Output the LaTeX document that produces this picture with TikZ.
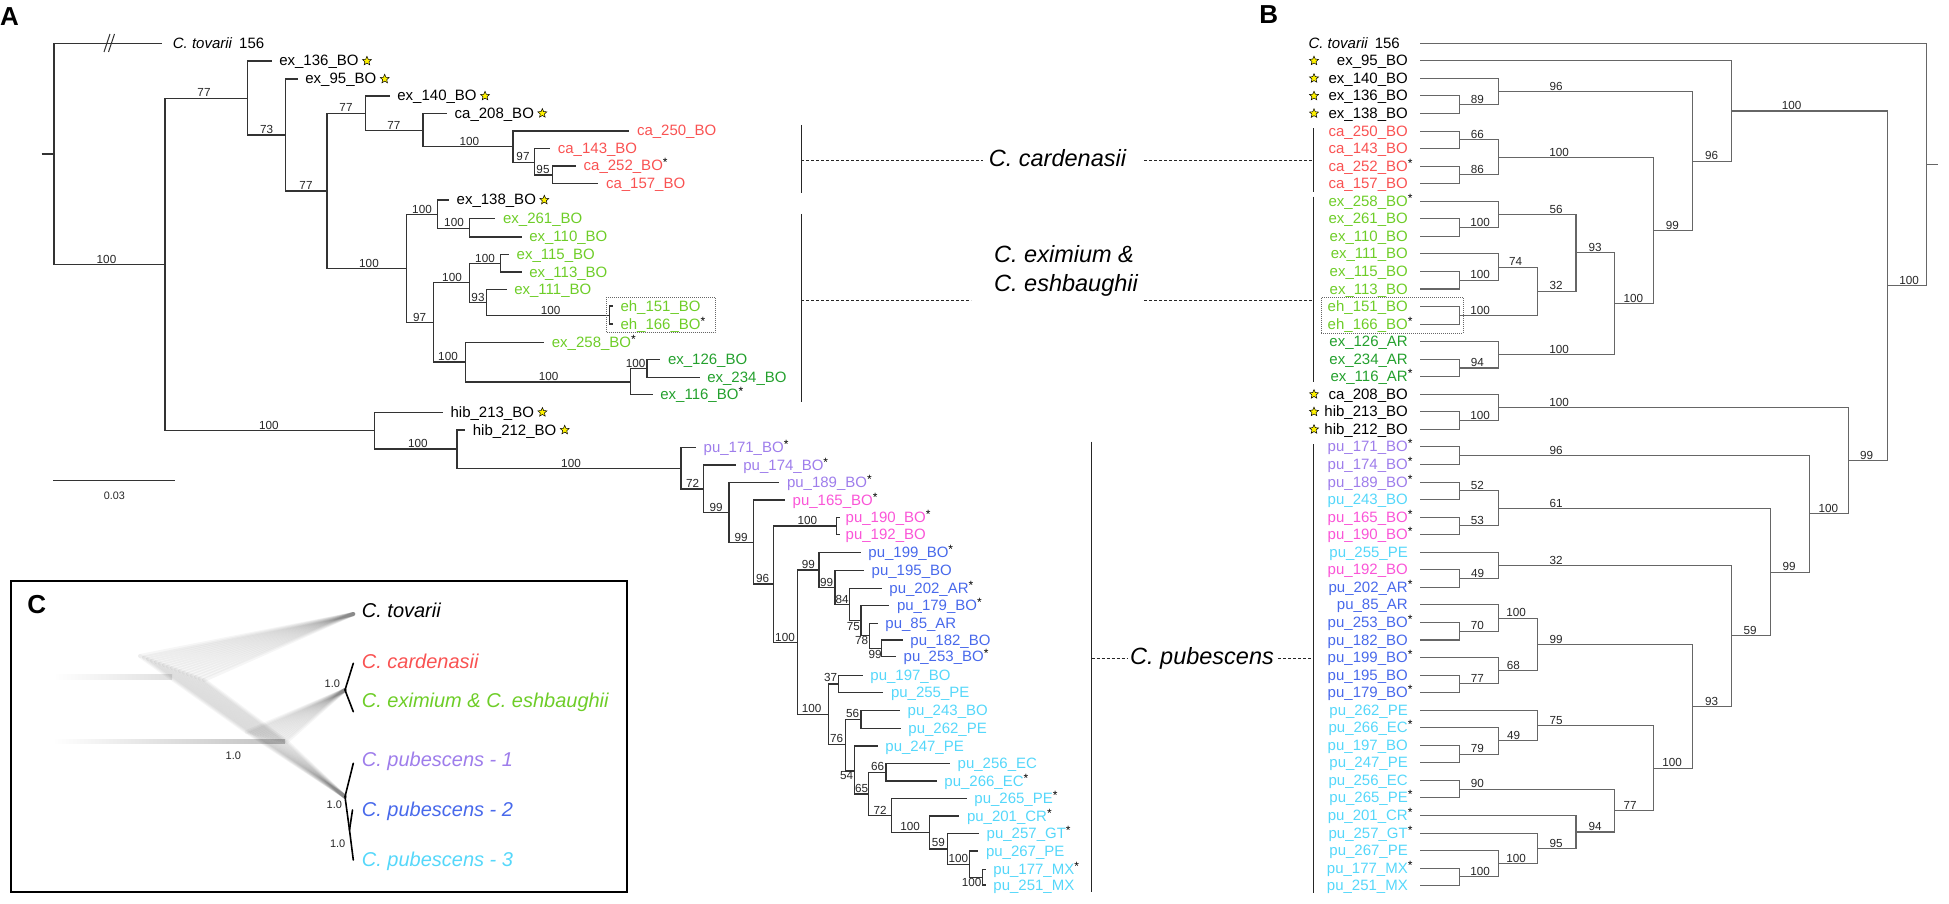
\documentclass[tikz,border=0pt]{standalone}
\usepackage{fontspec}
\setmainfont{Liberation Sans}
\usetikzlibrary{positioning,shapes.geometric}
\definecolor{cared}{RGB}{249,82,82}
\definecolor{exlight}{RGB}{110,205,40}
\definecolor{exdark}{RGB}{35,160,45}
\definecolor{pupur}{RGB}{158,125,235}
\definecolor{pupink}{RGB}{250,85,215}
\definecolor{publu}{RGB}{72,105,235}
\definecolor{pucya}{RGB}{85,215,250}
\newcommand{\astr}{\textcolor{black}{\raisebox{4pt}{\fontsize{12}{12}\selectfont *}}}
\begin{document}
\begin{tikzpicture}[x=1pt, y=-1pt,
  br/.style={draw=black!80, line width=1.25pt},
  brb/.style={draw=black!60, line width=1.05pt},
  tipA/.style={font=\fontsize{15}{17}\selectfont, inner sep=0pt, text height=11pt, text depth=1pt},
  boot/.style={font=\fontsize{11.7}{13}\selectfont, inner sep=0pt, text height=8.4pt, text depth=0pt, text=black!85},
  ystar/.style={star, star points=5, star point ratio=2.2, fill=yellow, draw=black, line width=0.5pt, minimum size=9.5pt, inner sep=0pt},
  grp/.style={draw=black!85, dash pattern=on 3pt off 2pt, line width=0.9pt},
  bar/.style={draw=black!85, line width=1.4pt},
  lab/.style={font=\fontsize{23.5}{28.3}\selectfont\itshape, inner sep=0pt, text height=12.2pt, text depth=0pt, anchor=west},
  panel/.style={font=\fontsize{26}{26}\selectfont\bfseries, inner sep=0pt, text height=18.6pt, text depth=0pt},
  ehbox/.style={draw=black!60, dash pattern=on 1pt off 1pt, line width=0.7pt},
  cloud/.style={draw=black, line width=4pt, opacity=0.035, line cap=round},
  ctip/.style={draw=black, line width=1.6pt, line cap=round},
  ctx/.style={font=\fontsize{20}{24}\selectfont\itshape, inner sep=0pt, text height=14.3pt, text depth=0pt, anchor=west},
  cbs/.style={font=\fontsize{11}{13}\selectfont, inner sep=0pt, text=black!85}]
\useasboundingbox (0,0) rectangle (1949,904);

% panel letters
\node[panel] (pa) at (9.5,16) {A};
\node[panel] (pb) at (1268.7,14.7) {B};
\node[panel] (pc) at (36.7,604) {C};

% ---------------- panel A ----------------
\coordinate (aroot) at (41.5,154);
\coordinate (aid0) at (54,154);
\coordinate (aid1) at (165,264.3);
\coordinate (aid2) at (247.5,98.3);
\coordinate (aid3) at (285.2,135);
\coordinate (aid4) at (327.1,191);
\coordinate (aid5) at (365.7,113.3);
\coordinate (aid6) at (422.9,130.7);
\coordinate (aid7) at (512.9,146.7);
\coordinate (aid8) at (534.8,162.3);
\coordinate (aid9) at (552.7,175);
\coordinate (aid10) at (406.3,268.3);
\coordinate (aid11) at (437.4,214.5);
\coordinate (aid12) at (469.7,228.3);
\coordinate (aid13) at (433.3,322.7);
\coordinate (aid14) at (469.6,282.7);
\coordinate (aid15) at (500.8,263.3);
\coordinate (aid16) at (486.3,302.7);
\coordinate (aid17) at (609.5,315.5);
\coordinate (aid18) at (465.2,362);
\coordinate (aid19) at (630.4,382);
\coordinate (aid20) at (646.9,368.5);
\coordinate (aid21) at (374.6,430.3);
\coordinate (aid22) at (457.1,449);
\coordinate (aid23) at (681,468.3);
\coordinate (aid24) at (703.3,489);
\coordinate (aid25) at (729,512.7);
\coordinate (aid26) at (753.3,542.3);
\coordinate (aid27) at (773.3,584);
\coordinate (aid28) at (836.7,526);
\coordinate (aid29) at (797.3,642.3);
\coordinate (aid30) at (819,570);
\coordinate (aid31) at (835,587.3);
\coordinate (aid32) at (849.3,604.5);
\coordinate (aid33) at (861,620.7);
\coordinate (aid34) at (869.3,635.7);
\coordinate (aid35) at (881.7,648.3);
\coordinate (aid36) at (828.3,714.3);
\coordinate (aid37) at (838.3,684);
\coordinate (aid38) at (845.7,744.3);
\coordinate (aid39) at (861,719.5);
\coordinate (aid40) at (854.3,771);
\coordinate (aid41) at (868.7,794);
\coordinate (aid42) at (886,772.7);
\coordinate (aid43) at (891.7,815.7);
\coordinate (aid44) at (929.3,832.7);
\coordinate (aid45) at (947.7,849);
\coordinate (aid46) at (969.3,864.5);
\coordinate (aid47) at (982.7,877.2);

\coordinate (atp0) at (161.7,43.3);
\coordinate (atp1) at (271.6,61);
\coordinate (atp2) at (297.7,79);
\coordinate (atp3) at (389.7,96);
\coordinate (atp4) at (447,113.3);
\coordinate (atp5) at (629.3,131);
\coordinate (atp6) at (550.2,148.7);
\coordinate (atp7) at (576,166);
\coordinate (atp8) at (598.3,183.3);
\coordinate (atp9) at (449,200);
\coordinate (atp10) at (495.4,218.7);
\coordinate (atp11) at (521.6,237);
\coordinate (atp12) at (509,254.3);
\coordinate (atp13) at (521.6,272);
\coordinate (atp14) at (506.6,289.3);
\coordinate (atp15) at (612.8,306);
\coordinate (atp16) at (612.8,324);
\coordinate (atp17) at (544.2,342.3);
\coordinate (atp18) at (660.3,359.7);
\coordinate (atp19) at (699.6,377.3);
\coordinate (atp20) at (652.7,394.7);
\coordinate (atp21) at (442.9,412.3);
\coordinate (atp22) at (465.2,430);
\coordinate (atp23) at (696,447.7);
\coordinate (atp24) at (735.7,465);
\coordinate (atp25) at (779.3,482.3);
\coordinate (atp26) at (785,500);
\coordinate (atp27) at (839.5,517.5);
\coordinate (atp28) at (839.5,534.5);
\coordinate (atp29) at (860.7,552.7);
\coordinate (atp30) at (864,570.7);
\coordinate (atp31) at (881.7,588.3);
\coordinate (atp32) at (889.3,605.7);
\coordinate (atp33) at (877.7,623.3);
\coordinate (atp34) at (902.7,640);
\coordinate (atp35) at (896,656.7);
\coordinate (atp36) at (862.7,675.3);
\coordinate (atp37) at (883.3,692.7);
\coordinate (atp38) at (900,710.7);
\coordinate (atp39) at (900.7,728.3);
\coordinate (atp40) at (877.7,746);
\coordinate (atp41) at (950,763.3);
\coordinate (atp42) at (936.7,781);
\coordinate (atp43) at (966.7,798.3);
\coordinate (atp44) at (959.3,816);
\coordinate (atp45) at (979,833.3);
\coordinate (atp46) at (978.3,851);
\coordinate (atp47) at (985.7,869.3);
\coordinate (atp48) at (985.7,885);

\draw[br] (aroot) -- (aid0);
\draw[br] (aid0) |- (atp0);
\draw[br] (aid0) |- (aid1);
\draw[br] (aid1) |- (aid2);
\draw[br] (aid1) |- (aid21);
\draw[br] (aid2) |- (atp1);
\draw[br] (aid2) |- (aid3);
\draw[br] (aid3) |- (atp2);
\draw[br] (aid3) |- (aid4);
\draw[br] (aid4) |- (aid5);
\draw[br] (aid4) |- (aid10);
\draw[br] (aid5) |- (atp3);
\draw[br] (aid5) |- (aid6);
\draw[br] (aid6) |- (atp4);
\draw[br] (aid6) |- (aid7);
\draw[br] (aid7) |- (atp5);
\draw[br] (aid7) |- (aid8);
\draw[br] (aid8) |- (atp6);
\draw[br] (aid8) |- (aid9);
\draw[br] (aid9) |- (atp7);
\draw[br] (aid9) |- (atp8);
\draw[br] (aid10) |- (aid11);
\draw[br] (aid10) |- (aid13);
\draw[br] (aid11) |- (atp9);
\draw[br] (aid11) |- (aid12);
\draw[br] (aid12) |- (atp10);
\draw[br] (aid12) |- (atp11);
\draw[br] (aid13) |- (aid14);
\draw[br] (aid13) |- (aid18);
\draw[br] (aid14) |- (aid15);
\draw[br] (aid14) |- (aid16);
\draw[br] (aid15) |- (atp12);
\draw[br] (aid15) |- (atp13);
\draw[br] (aid16) |- (atp14);
\draw[br] (aid16) |- (aid17);
\draw[br] (aid17) |- (atp15);
\draw[br] (aid17) |- (atp16);
\draw[br] (aid18) |- (atp17);
\draw[br] (aid18) |- (aid19);
\draw[br] (aid19) |- (aid20);
\draw[br] (aid19) |- (atp20);
\draw[br] (aid20) |- (atp18);
\draw[br] (aid20) |- (atp19);
\draw[br] (aid21) |- (atp21);
\draw[br] (aid21) |- (aid22);
\draw[br] (aid22) |- (atp22);
\draw[br] (aid22) |- (aid23);
\draw[br] (aid23) |- (atp23);
\draw[br] (aid23) |- (aid24);
\draw[br] (aid24) |- (atp24);
\draw[br] (aid24) |- (aid25);
\draw[br] (aid25) |- (atp25);
\draw[br] (aid25) |- (aid26);
\draw[br] (aid26) |- (atp26);
\draw[br] (aid26) |- (aid27);
\draw[br] (aid27) |- (aid28);
\draw[br] (aid27) |- (aid29);
\draw[br] (aid28) |- (atp27);
\draw[br] (aid28) |- (atp28);
\draw[br] (aid29) |- (aid30);
\draw[br] (aid29) |- (aid36);
\draw[br] (aid30) |- (atp29);
\draw[br] (aid30) |- (aid31);
\draw[br] (aid31) |- (atp30);
\draw[br] (aid31) |- (aid32);
\draw[br] (aid32) |- (atp31);
\draw[br] (aid32) |- (aid33);
\draw[br] (aid33) |- (atp32);
\draw[br] (aid33) |- (aid34);
\draw[br] (aid34) |- (atp33);
\draw[br] (aid34) |- (aid35);
\draw[br] (aid35) |- (atp34);
\draw[br] (aid35) |- (atp35);
\draw[br] (aid36) |- (aid37);
\draw[br] (aid36) |- (aid38);
\draw[br] (aid37) |- (atp36);
\draw[br] (aid37) |- (atp37);
\draw[br] (aid38) |- (aid39);
\draw[br] (aid38) |- (aid40);
\draw[br] (aid39) |- (atp38);
\draw[br] (aid39) |- (atp39);
\draw[br] (aid40) |- (atp40);
\draw[br] (aid40) |- (aid41);
\draw[br] (aid41) |- (aid42);
\draw[br] (aid41) |- (aid43);
\draw[br] (aid42) |- (atp41);
\draw[br] (aid42) |- (atp42);
\draw[br] (aid43) |- (atp43);
\draw[br] (aid43) |- (aid44);
\draw[br] (aid44) |- (atp44);
\draw[br] (aid44) |- (aid45);
\draw[br] (aid45) |- (atp45);
\draw[br] (aid45) |- (aid46);
\draw[br] (aid46) |- (atp46);
\draw[br] (aid46) |- (aid47);
\draw[br] (aid47) |- (atp47);
\draw[br] (aid47) |- (atp48);

% break on the outgroup branch
\draw[br, line width=1pt] (104,52) -- (110,34);
\draw[br, line width=1pt] (108.5,52) -- (114.5,34);

% tip names A
\node[tipA, right=11pt of atp0] (atx0) {\textit{C. tovarii}\hspace{0.45em}156};
\node[tipA, right=7.5pt of atp1] (atx1) {ex\_136\_BO};
\node[ystar, right=5pt of atx1] (ast1) {};
\node[tipA, right=7.5pt of atp2] (atx2) {ex\_95\_BO};
\node[ystar, right=5pt of atx2] (ast2) {};
\node[tipA, right=7.5pt of atp3] (atx3) {ex\_140\_BO};
\node[ystar, right=5pt of atx3] (ast3) {};
\node[tipA, right=7.5pt of atp4] (atx4) {ca\_208\_BO};
\node[ystar, right=5pt of atx4] (ast4) {};
\node[tipA, text=cared, right=7.5pt of atp5] (atx5) {ca\_250\_BO};
\node[tipA, text=cared, right=7.5pt of atp6] (atx6) {ca\_143\_BO};
\node[tipA, text=cared, right=7.5pt of atp7] (atx7) {ca\_252\_BO\astr};
\node[tipA, text=cared, right=7.5pt of atp8] (atx8) {ca\_157\_BO};
\node[tipA, right=7.5pt of atp9] (atx9) {ex\_138\_BO};
\node[ystar, right=5pt of atx9] (ast9) {};
\node[tipA, text=exlight, right=7.5pt of atp10] (atx10) {ex\_261\_BO};
\node[tipA, text=exlight, right=7.5pt of atp11] (atx11) {ex\_110\_BO};
\node[tipA, text=exlight, right=7.5pt of atp12] (atx12) {ex\_115\_BO};
\node[tipA, text=exlight, right=7.5pt of atp13] (atx13) {ex\_113\_BO};
\node[tipA, text=exlight, right=7.5pt of atp14] (atx14) {ex\_111\_BO};
\node[tipA, text=exlight, right=7.5pt of atp15] (atx15) {eh\_151\_BO};
\node[tipA, text=exlight, right=7.5pt of atp16] (atx16) {eh\_166\_BO\astr};
\node[tipA, text=exlight, right=7.5pt of atp17] (atx17) {ex\_258\_BO\astr};
\node[tipA, text=exdark, right=7.5pt of atp18] (atx18) {ex\_126\_BO};
\node[tipA, text=exdark, right=7.5pt of atp19] (atx19) {ex\_234\_BO};
\node[tipA, text=exdark, right=7.5pt of atp20] (atx20) {ex\_116\_BO\astr};
\node[tipA, right=7.5pt of atp21] (atx21) {hib\_213\_BO};
\node[ystar, right=5pt of atx21] (ast21) {};
\node[tipA, right=7.5pt of atp22] (atx22) {hib\_212\_BO};
\node[ystar, right=5pt of atx22] (ast22) {};
\node[tipA, text=pupur, right=7.5pt of atp23] (atx23) {pu\_171\_BO\astr};
\node[tipA, text=pupur, right=7.5pt of atp24] (atx24) {pu\_174\_BO\astr};
\node[tipA, text=pupur, right=7.5pt of atp25] (atx25) {pu\_189\_BO\astr};
\node[tipA, text=pupink, right=7.5pt of atp26] (atx26) {pu\_165\_BO\astr};
\node[tipA, text=pupink, right=6pt of atp27] (atx27) {pu\_190\_BO\astr};
\node[tipA, text=pupink, right=6pt of atp28] (atx28) {pu\_192\_BO};
\node[tipA, text=publu, right=7.5pt of atp29] (atx29) {pu\_199\_BO\astr};
\node[tipA, text=publu, right=7.5pt of atp30] (atx30) {pu\_195\_BO};
\node[tipA, text=publu, right=7.5pt of atp31] (atx31) {pu\_202\_AR\astr};
\node[tipA, text=publu, right=7.5pt of atp32] (atx32) {pu\_179\_BO\astr};
\node[tipA, text=publu, right=7.5pt of atp33] (atx33) {pu\_85\_AR};
\node[tipA, text=publu, right=7.5pt of atp34] (atx34) {pu\_182\_BO};
\node[tipA, text=publu, right=7.5pt of atp35] (atx35) {pu\_253\_BO\astr};
\node[tipA, text=pucya, right=7.5pt of atp36] (atx36) {pu\_197\_BO};
\node[tipA, text=pucya, right=7.5pt of atp37] (atx37) {pu\_255\_PE};
\node[tipA, text=pucya, right=7.5pt of atp38] (atx38) {pu\_243\_BO};
\node[tipA, text=pucya, right=7.5pt of atp39] (atx39) {pu\_262\_PE};
\node[tipA, text=pucya, right=7.5pt of atp40] (atx40) {pu\_247\_PE};
\node[tipA, text=pucya, right=7.5pt of atp41] (atx41) {pu\_256\_EC};
\node[tipA, text=pucya, right=7.5pt of atp42] (atx42) {pu\_266\_EC\astr};
\node[tipA, text=pucya, right=7.5pt of atp43] (atx43) {pu\_265\_PE\astr};
\node[tipA, text=pucya, right=7.5pt of atp44] (atx44) {pu\_201\_CR\astr};
\node[tipA, text=pucya, right=7.5pt of atp45] (atx45) {pu\_257\_GT\astr};
\node[tipA, text=pucya, right=7.5pt of atp46] (atx46) {pu\_267\_PE};
\node[tipA, text=pucya, right=7.5pt of atp47] (atx47) {pu\_177\_MX\astr};
\node[tipA, text=pucya, right=7.5pt of atp48] (atx48) {pu\_251\_MX};

\draw[ehbox] (606,297.3) rectangle (715,332.7);

% support values A
\node[boot] (alb1) at (106.5,258.8) {100};
\node[boot] (alb2) at (204,92.8) {77};
\node[boot] (alb3) at (266.6,129.5) {73};
\node[boot] (alb4) at (306,185.5) {77};
\node[boot] (alb5) at (346,107.8) {77};
\node[boot] (alb6) at (393.9,125.2) {77};
\node[boot] (alb7) at (469.3,141.2) {100};
\node[boot] (alb8) at (523,156.8) {97};
\node[boot] (alb9) at (543,169.5) {95};
\node[boot] (alb10) at (369,262.8) {100};
\node[boot] (alb11) at (422,209) {100};
\node[boot] (alb12) at (454,222.8) {100};
\node[boot] (alb13) at (419.6,317.2) {97};
\node[boot] (alb14) at (452,277.2) {100};
\node[boot] (alb15) at (485,257.8) {100};
\node[boot] (alb16) at (478,297.2) {93};
\node[boot] (alb17) at (550.6,310) {100};
\node[boot] (alb18) at (448,356.5) {100};
\node[boot] (alb19) at (548.7,376.5) {100};
\node[boot] (alb20) at (635.7,363) {100};
\node[boot] (alb21) at (268.8,424.8) {100};
\node[boot] (alb22) at (417.9,443.5) {100};
\node[boot] (alb23) at (571,462.8) {100};
\node[boot] (alb24) at (692.7,483.5) {72};
\node[boot] (alb25) at (716,507.2) {99};
\node[boot] (alb26) at (741,536.8) {99};
\node[boot] (alb27) at (762.7,578.5) {96};
\node[boot] (alb28) at (807.3,520.5) {100};
\node[boot] (alb29) at (785,636.8) {100};
\node[boot] (alb30) at (808.3,564.5) {99};
\node[boot] (alb31) at (826.7,581.8) {99};
\node[boot] (alb32) at (842,599) {84};
\node[boot] (alb33) at (853.3,626.7) {75};
\node[boot] (alb34) at (861.7,640.7) {78};
\node[boot] (alb35) at (875,654) {99};
\node[boot] (alb36) at (811.7,708.3) {100};
\node[boot] (alb37) at (830.7,677.7) {37};
\node[boot] (alb38) at (836.7,738.3) {76};
\node[boot] (alb39) at (852.7,713.3) {56};
\node[boot] (alb40) at (846.7,775.7) {54};
\node[boot] (alb41) at (861.7,788.3) {65};
\node[boot] (alb42) at (877.7,766.7) {66};
\node[boot] (alb43) at (880,810) {72};
\node[boot] (alb44) at (910,826.7) {100};
\node[boot] (alb45) at (938.3,842.7) {59};
\node[boot] (alb46) at (958.3,858.3) {100};
\node[boot] (alb47) at (971.7,882.7) {100};

% scale bar
\coordinate (sb0) at (53.3,480.7);
\coordinate (sb1) at (175,480.7);
\draw[br] (sb0) -- (sb1);
\node[boot, font=\fontsize{10.8}{12}\selectfont] (sblb) at (114.3,495) {0.03};

% ---------------- clade labels ----------------
\coordinate (caA1) at (801.3,125);
\coordinate (caA2) at (801.3,193.3);
\coordinate (caA) at (801.3,160);
\coordinate (caL) at (982.5,160);
\coordinate (caR) at (1144,160);
\coordinate (caB) at (1313.3,160);
\coordinate (caB1) at (1313.3,128.3);
\coordinate (caB2) at (1313.3,191.7);
\draw[bar] (caA1) -- (caA2);
\draw[bar] (caB1) -- (caB2);
\draw[grp] (caA) -- (caL);
\draw[grp] (caR) -- (caB);
\node[lab] (calab) at (988.7,160) {C. cardenasii};

\coordinate (exA1) at (801.3,214);
\coordinate (exA2) at (801.3,402);
\coordinate (exA) at (801.3,300);
\coordinate (exL) at (971.3,300);
\coordinate (exR) at (1144,300);
\coordinate (exB) at (1313.3,300);
\coordinate (exB1) at (1313.3,196.7);
\coordinate (exB2) at (1313.3,381.7);
\draw[bar] (exA1) -- (exA2);
\draw[bar] (exB1) -- (exB2);
\draw[grp] (exA) -- (exL);
\draw[grp] (exR) -- (exB);
\node[font=\fontsize{23.5}{28.3}\selectfont\itshape, inner sep=0pt, align=left, anchor=base west] (exlab) at (994,291.1) {C. eximium \&\\C. eshbaughii};

\coordinate (puA1) at (1091.7,441.7);
\coordinate (puA2) at (1091.7,891.7);
\coordinate (puA) at (1091.7,658.3);
\coordinate (puL) at (1127,658.3);
\coordinate (puR) at (1278,658.3);
\coordinate (puB) at (1313.3,658.3);
\coordinate (puB1) at (1313.3,444);
\coordinate (puB2) at (1313.3,893.3);
\draw[bar] (puA1) -- (puA2);
\draw[bar] (puB1) -- (puB2);
\draw[grp] (puA) -- (puL);
\draw[grp] (puR) -- (puB);
\node[lab] (pulab) at (1130,658.3) {C. pubescens};

% ---------------- panel B ----------------
\coordinate (bid1) at (1459.3,104.7);
\coordinate (bid2) at (1498.2,91.6);
\coordinate (bid3) at (1459.3,139.8);
\coordinate (bid4) at (1459.3,174.9);
\coordinate (bid5) at (1498.2,157.4);
\coordinate (bid6) at (1459.3,227.6);
\coordinate (bid7) at (1498.2,214.4);
\coordinate (bid8) at (1459.3,280.2);
\coordinate (bid9) at (1498.2,267.1);
\coordinate (bid10) at (1459.3,315.3);
\coordinate (bid11) at (1537.1,291.2);
\coordinate (bid12) at (1576.0,252.8);
\coordinate (bid13) at (1459.3,368.0);
\coordinate (bid14) at (1498.2,354.8);
\coordinate (bid15) at (1614.9,303.8);
\coordinate (bid16) at (1653.8,230.6);
\coordinate (bid17) at (1692.7,161.1);
\coordinate (bid18) at (1731.6,111.0);
\coordinate (bid19) at (1459.3,420.6);
\coordinate (bid20) at (1498.2,407.5);
\coordinate (bid21) at (1459.3,455.7);
\coordinate (bid22) at (1459.3,490.8);
\coordinate (bid23) at (1459.3,525.9);
\coordinate (bid24) at (1498.2,508.4);
\coordinate (bid25) at (1459.3,578.6);
\coordinate (bid26) at (1498.2,565.4);
\coordinate (bid27) at (1459.3,631.2);
\coordinate (bid28) at (1498.2,618.1);
\coordinate (bid29) at (1459.3,683.9);
\coordinate (bid30) at (1498.2,670.7);
\coordinate (bid31) at (1537.1,644.4);
\coordinate (bid32) at (1459.3,754.1);
\coordinate (bid33) at (1498.2,740.9);
\coordinate (bid34) at (1537.1,725.6);
\coordinate (bid35) at (1459.3,789.2);
\coordinate (bid36) at (1459.3,876.9);
\coordinate (bid37) at (1498.2,863.8);
\coordinate (bid38) at (1537.1,848.4);
\coordinate (bid39) at (1576.0,832.0);
\coordinate (bid40) at (1614.9,810.6);
\coordinate (bid41) at (1653.8,768.1);
\coordinate (bid42) at (1692.7,706.3);
\coordinate (bid43) at (1731.6,635.8);
\coordinate (bid44) at (1770.5,572.1);
\coordinate (bid45) at (1809.4,513.9);
\coordinate (bid46) at (1848.3,460.7);
\coordinate (bid47) at (1887.2,285.9);
\coordinate (bid48) at (1926.1,164.6);
\coordinate (broot) at (1938,164.6);

\coordinate (btp0) at (1420,43.3);
\coordinate (btp1) at (1420,60.85);
\coordinate (btp2) at (1420,78.4);
\coordinate (btp3) at (1420,95.95);
\coordinate (btp4) at (1420,113.5);
\coordinate (btp5) at (1420,131.05);
\coordinate (btp6) at (1420,148.6);
\coordinate (btp7) at (1420,166.15);
\coordinate (btp8) at (1420,183.7);
\coordinate (btp9) at (1420,201.25);
\coordinate (btp10) at (1420,218.8);
\coordinate (btp11) at (1420,236.35);
\coordinate (btp12) at (1420,253.9);
\coordinate (btp13) at (1420,271.45);
\coordinate (btp14) at (1420,289.0);
\coordinate (btp15) at (1420,306.55);
\coordinate (btp16) at (1420,324.1);
\coordinate (btp17) at (1420,341.65);
\coordinate (btp18) at (1420,359.2);
\coordinate (btp19) at (1420,376.75);
\coordinate (btp20) at (1420,394.3);
\coordinate (btp21) at (1420,411.85);
\coordinate (btp22) at (1420,429.4);
\coordinate (btp23) at (1420,446.95);
\coordinate (btp24) at (1420,464.5);
\coordinate (btp25) at (1420,482.05);
\coordinate (btp26) at (1420,499.6);
\coordinate (btp27) at (1420,517.15);
\coordinate (btp28) at (1420,534.7);
\coordinate (btp29) at (1420,552.25);
\coordinate (btp30) at (1420,569.8);
\coordinate (btp31) at (1420,587.35);
\coordinate (btp32) at (1420,604.9);
\coordinate (btp33) at (1420,622.45);
\coordinate (btp34) at (1420,640.0);
\coordinate (btp35) at (1420,657.55);
\coordinate (btp36) at (1420,675.1);
\coordinate (btp37) at (1420,692.65);
\coordinate (btp38) at (1420,710.2);
\coordinate (btp39) at (1420,727.75);
\coordinate (btp40) at (1420,745.3);
\coordinate (btp41) at (1420,762.85);
\coordinate (btp42) at (1420,780.4);
\coordinate (btp43) at (1420,797.95);
\coordinate (btp44) at (1420,815.5);
\coordinate (btp45) at (1420,833.05);
\coordinate (btp46) at (1420,850.6);
\coordinate (btp47) at (1420,868.15);
\coordinate (btp48) at (1420,885.7);

\draw[brb] (bid48) -- (broot);
\draw[brb] (bid48) |- (btp0);
\draw[brb] (bid48) |- (bid47);
\draw[brb] (bid47) |- (bid18);
\draw[brb] (bid47) |- (bid46);
\draw[brb] (bid18) |- (btp1);
\draw[brb] (bid18) |- (bid17);
\draw[brb] (bid17) |- (bid2);
\draw[brb] (bid17) |- (bid16);
\draw[brb] (bid2) |- (btp2);
\draw[brb] (bid2) |- (bid1);
\draw[brb] (bid1) |- (btp3);
\draw[brb] (bid1) |- (btp4);
\draw[brb] (bid16) |- (bid5);
\draw[brb] (bid16) |- (bid15);
\draw[brb] (bid5) |- (bid3);
\draw[brb] (bid5) |- (bid4);
\draw[brb] (bid3) |- (btp5);
\draw[brb] (bid3) |- (btp6);
\draw[brb] (bid4) |- (btp7);
\draw[brb] (bid4) |- (btp8);
\draw[brb] (bid15) |- (bid12);
\draw[brb] (bid15) |- (bid14);
\draw[brb] (bid12) |- (bid7);
\draw[brb] (bid12) |- (bid11);
\draw[brb] (bid7) |- (btp9);
\draw[brb] (bid7) |- (bid6);
\draw[brb] (bid6) |- (btp10);
\draw[brb] (bid6) |- (btp11);
\draw[brb] (bid11) |- (bid9);
\draw[brb] (bid11) |- (bid10);
\draw[brb] (bid9) |- (btp12);
\draw[brb] (bid9) |- (bid8);
\draw[brb] (bid8) |- (btp13);
\draw[brb] (bid8) |- (btp14);
\draw[brb] (bid10) |- (btp15);
\draw[brb] (bid10) |- (btp16);
\draw[brb] (bid14) |- (btp17);
\draw[brb] (bid14) |- (bid13);
\draw[brb] (bid13) |- (btp18);
\draw[brb] (bid13) |- (btp19);
\draw[brb] (bid46) |- (bid20);
\draw[brb] (bid46) |- (bid45);
\draw[brb] (bid20) |- (btp20);
\draw[brb] (bid20) |- (bid19);
\draw[brb] (bid19) |- (btp21);
\draw[brb] (bid19) |- (btp22);
\draw[brb] (bid45) |- (bid21);
\draw[brb] (bid45) |- (bid44);
\draw[brb] (bid21) |- (btp23);
\draw[brb] (bid21) |- (btp24);
\draw[brb] (bid44) |- (bid24);
\draw[brb] (bid44) |- (bid43);
\draw[brb] (bid24) |- (bid22);
\draw[brb] (bid24) |- (bid23);
\draw[brb] (bid22) |- (btp25);
\draw[brb] (bid22) |- (btp26);
\draw[brb] (bid23) |- (btp27);
\draw[brb] (bid23) |- (btp28);
\draw[brb] (bid43) |- (bid26);
\draw[brb] (bid43) |- (bid42);
\draw[brb] (bid26) |- (btp29);
\draw[brb] (bid26) |- (bid25);
\draw[brb] (bid25) |- (btp30);
\draw[brb] (bid25) |- (btp31);
\draw[brb] (bid42) |- (bid31);
\draw[brb] (bid42) |- (bid41);
\draw[brb] (bid31) |- (bid28);
\draw[brb] (bid31) |- (bid30);
\draw[brb] (bid28) |- (btp32);
\draw[brb] (bid28) |- (bid27);
\draw[brb] (bid27) |- (btp33);
\draw[brb] (bid27) |- (btp34);
\draw[brb] (bid30) |- (btp35);
\draw[brb] (bid30) |- (bid29);
\draw[brb] (bid29) |- (btp36);
\draw[brb] (bid29) |- (btp37);
\draw[brb] (bid41) |- (bid34);
\draw[brb] (bid41) |- (bid40);
\draw[brb] (bid34) |- (btp38);
\draw[brb] (bid34) |- (bid33);
\draw[brb] (bid33) |- (btp39);
\draw[brb] (bid33) |- (bid32);
\draw[brb] (bid32) |- (btp40);
\draw[brb] (bid32) |- (btp41);
\draw[brb] (bid40) |- (bid35);
\draw[brb] (bid40) |- (bid39);
\draw[brb] (bid35) |- (btp42);
\draw[brb] (bid35) |- (btp43);
\draw[brb] (bid39) |- (btp44);
\draw[brb] (bid39) |- (bid38);
\draw[brb] (bid38) |- (btp45);
\draw[brb] (bid38) |- (bid37);
\draw[brb] (bid37) |- (btp46);
\draw[brb] (bid37) |- (bid36);
\draw[brb] (bid36) |- (btp47);
\draw[brb] (bid36) |- (btp48);

% tip names B
\node[tipA, left=20pt of btp0] (btx0) {\textit{C. tovarii}\hspace{0.45em}156};
\node[tipA, left=12pt of btp1] (btx1) {ex\_95\_BO};
\node[tipA, left=12pt of btp2] (btx2) {ex\_140\_BO};
\node[tipA, left=12pt of btp3] (btx3) {ex\_136\_BO};
\node[tipA, left=12pt of btp4] (btx4) {ex\_138\_BO};
\node[tipA, text=cared, left=12pt of btp5] (btx5) {ca\_250\_BO};
\node[tipA, text=cared, left=12pt of btp6] (btx6) {ca\_143\_BO};
\node[tipA, text=cared, left=12pt of btp7] (btx7) {ca\_252\_BO\rlap{\astr}};
\node[tipA, text=cared, left=12pt of btp8] (btx8) {ca\_157\_BO};
\node[tipA, text=exlight, left=12pt of btp9] (btx9) {ex\_258\_BO\rlap{\astr}};
\node[tipA, text=exlight, left=12pt of btp10] (btx10) {ex\_261\_BO};
\node[tipA, text=exlight, left=12pt of btp11] (btx11) {ex\_110\_BO};
\node[tipA, text=exlight, left=12pt of btp12] (btx12) {ex\_111\_BO};
\node[tipA, text=exlight, left=12pt of btp13] (btx13) {ex\_115\_BO};
\node[tipA, text=exlight, left=12pt of btp14] (btx14) {ex\_113\_BO};
\node[tipA, text=exlight, left=12pt of btp15] (btx15) {eh\_151\_BO};
\node[tipA, text=exlight, left=12pt of btp16] (btx16) {eh\_166\_BO\rlap{\astr}};
\node[tipA, text=exdark, left=12pt of btp17] (btx17) {ex\_126\_AR};
\node[tipA, text=exdark, left=12pt of btp18] (btx18) {ex\_234\_AR};
\node[tipA, text=exdark, left=12pt of btp19] (btx19) {ex\_116\_AR\rlap{\astr}};
\node[tipA, left=12pt of btp20] (btx20) {ca\_208\_BO};
\node[tipA, left=12pt of btp21] (btx21) {hib\_213\_BO};
\node[tipA, left=12pt of btp22] (btx22) {hib\_212\_BO};
\node[tipA, text=pupur, left=12pt of btp23] (btx23) {pu\_171\_BO\rlap{\astr}};
\node[tipA, text=pupur, left=12pt of btp24] (btx24) {pu\_174\_BO\rlap{\astr}};
\node[tipA, text=pupur, left=12pt of btp25] (btx25) {pu\_189\_BO\rlap{\astr}};
\node[tipA, text=pucya, left=12pt of btp26] (btx26) {pu\_243\_BO};
\node[tipA, text=pupink, left=12pt of btp27] (btx27) {pu\_165\_BO\rlap{\astr}};
\node[tipA, text=pupink, left=12pt of btp28] (btx28) {pu\_190\_BO\rlap{\astr}};
\node[tipA, text=pucya, left=12pt of btp29] (btx29) {pu\_255\_PE};
\node[tipA, text=pupink, left=12pt of btp30] (btx30) {pu\_192\_BO};
\node[tipA, text=publu, left=12pt of btp31] (btx31) {pu\_202\_AR\rlap{\astr}};
\node[tipA, text=publu, left=12pt of btp32] (btx32) {pu\_85\_AR};
\node[tipA, text=publu, left=12pt of btp33] (btx33) {pu\_253\_BO\rlap{\astr}};
\node[tipA, text=publu, left=12pt of btp34] (btx34) {pu\_182\_BO};
\node[tipA, text=publu, left=12pt of btp35] (btx35) {pu\_199\_BO\rlap{\astr}};
\node[tipA, text=publu, left=12pt of btp36] (btx36) {pu\_195\_BO};
\node[tipA, text=publu, left=12pt of btp37] (btx37) {pu\_179\_BO\rlap{\astr}};
\node[tipA, text=pucya, left=12pt of btp38] (btx38) {pu\_262\_PE};
\node[tipA, text=pucya, left=12pt of btp39] (btx39) {pu\_266\_EC\rlap{\astr}};
\node[tipA, text=pucya, left=12pt of btp40] (btx40) {pu\_197\_BO};
\node[tipA, text=pucya, left=12pt of btp41] (btx41) {pu\_247\_PE};
\node[tipA, text=pucya, left=12pt of btp42] (btx42) {pu\_256\_EC};
\node[tipA, text=pucya, left=12pt of btp43] (btx43) {pu\_265\_PE\rlap{\astr}};
\node[tipA, text=pucya, left=12pt of btp44] (btx44) {pu\_201\_CR\rlap{\astr}};
\node[tipA, text=pucya, left=12pt of btp45] (btx45) {pu\_257\_GT\rlap{\astr}};
\node[tipA, text=pucya, left=12pt of btp46] (btx46) {pu\_267\_PE};
\node[tipA, text=pucya, left=12pt of btp47] (btx47) {pu\_177\_MX\rlap{\astr}};
\node[tipA, text=pucya, left=12pt of btp48] (btx48) {pu\_251\_MX};

\node[ystar] (bst1) at (1314,60.85) {};
\node[ystar] (bst2) at (1314,78.4) {};
\node[ystar] (bst3) at (1314,95.95) {};
\node[ystar] (bst4) at (1314,113.5) {};
\node[ystar] (bst20) at (1314,394.3) {};
\node[ystar] (bst21) at (1314,411.85) {};
\node[ystar] (bst22) at (1314,429.4) {};

\draw[ehbox] (1321,297.7) rectangle (1463.3,333.3);

% support values B
\node[boot] (blb1) at (1477.3,99.2) {89};
\node[boot] (blb2) at (1556,86.1) {96};
\node[boot] (blb3) at (1477.3,134.3) {66};
\node[boot] (blb4) at (1477.3,169.4) {86};
\node[boot] (blb5) at (1559,151.9) {100};
\node[boot] (blb6) at (1480,222.1) {100};
\node[boot] (blb7) at (1556,208.9) {56};
\node[boot] (blb8) at (1480,274.7) {100};
\node[boot] (blb9) at (1515.7,261.6) {74};
\node[boot] (blb10) at (1480,309.8) {100};
\node[boot] (blb11) at (1556,285.7) {32};
\node[boot] (blb12) at (1595,247.3) {93};
\node[boot] (blb13) at (1477.3,362.5) {94};
\node[boot] (blb14) at (1559,349.3) {100};
\node[boot] (blb15) at (1633.3,298.3) {100};
\node[boot] (blb16) at (1672.3,225.1) {99};
\node[boot] (blb17) at (1711.7,155.6) {96};
\node[boot] (blb18) at (1791.7,105.5) {100};
\node[boot] (blb19) at (1480,415.1) {100};
\node[boot] (blb20) at (1559,402) {100};
\node[boot] (blb21) at (1556,450.2) {96};
\node[boot] (blb22) at (1477.3,485.3) {52};
\node[boot] (blb23) at (1477.3,520.4) {53};
\node[boot] (blb24) at (1556,502.9) {61};
\node[boot] (blb25) at (1477.7,573.1) {49};
\node[boot] (blb26) at (1556,559.9) {32};
\node[boot] (blb27) at (1477.3,625.7) {70};
\node[boot] (blb28) at (1516,612.6) {100};
\node[boot] (blb29) at (1477.3,678.4) {77};
\node[boot] (blb30) at (1513.3,665.2) {68};
\node[boot] (blb31) at (1556,638.9) {99};
\node[boot] (blb32) at (1477.3,748.6) {79};
\node[boot] (blb33) at (1513.7,735.4) {49};
\node[boot] (blb34) at (1556,720.1) {75};
\node[boot] (blb35) at (1477.3,783.7) {90};
\node[boot] (blb36) at (1480,871.4) {100};
\node[boot] (blb37) at (1516,858.3) {100};
\node[boot] (blb38) at (1556,842.9) {95};
\node[boot] (blb39) at (1595,826.5) {94};
\node[boot] (blb40) at (1630,805.1) {77};
\node[boot] (blb41) at (1672,762.6) {100};
\node[boot] (blb42) at (1711.7,700.8) {93};
\node[boot] (blb43) at (1750,630.3) {59};
\node[boot] (blb44) at (1789,566.6) {99};
\node[boot] (blb45) at (1828.3,508.4) {100};
\node[boot] (blb46) at (1866.7,455.2) {99};
\node[boot] (blb47) at (1909,280.4) {100};

% ---------------- panel C ----------------
\draw[line width=2pt] (11,580.7) rectangle (627,892.3);
\coordinate (cid1) at (353.3,614);
\coordinate (cid3) at (345,690);
\coordinate (cid4) at (345,796.7);
\coordinate (cid5) at (349.5,830);
\coordinate (cid6) at (353.3,663.3);
\coordinate (cid7) at (353.3,711.7);
\coordinate (cid8) at (353.3,763.3);
\coordinate (cid9) at (352.5,810);
\coordinate (cid10) at (353.3,860);
% faint root lines
\shade[left color=white, right color=black, opacity=0.12] (53,674) rectangle (172,679);
\shade[left color=white, right color=black, opacity=0.25] (53,739) rectangle (285,743);
% bundle of sampled trees
\foreach \k in {-8,...,8}{
  \draw[cloud] (172+4*\k,668+1.5*\k) -- (cid1);
  \draw[cloud] (172+4*\k,668+1.5*\k) -- (266.7+2.5*\k,736.7+0.6*\k) -- (cid3);
  \draw[cloud] (266.7+2.5*\k,736.7+0.6*\k) -- (cid4);
}
\draw[ctip] (cid3) -- (cid6);
\draw[ctip] (cid3) -- (cid7);
\draw[ctip] (cid4) -- (cid8);
\draw[ctip] (cid4) -- (cid5);
\draw[ctip] (cid5) -- (cid9);
\draw[ctip] (cid5) -- (cid10);
\node[ctx] (cx1) at (361.7,610) {C. tovarii};
\node[ctx, text=cared] (cx2) at (361.7,661.7) {C. cardenasii};
\node[ctx, text=exlight] (cx3) at (361.7,700.7) {C. eximium \& C. eshbaughii};
\node[ctx, text=pupur] (cx4) at (361.7,759.3) {C. pubescens - 1};
\node[ctx, text=publu] (cx5) at (361.7,809) {C. pubescens - 2};
\node[ctx, text=pucya] (cx6) at (361.7,859) {C. pubescens - 3};
\node[cbs] (clb1) at (233.3,755.7) {1.0};
\node[cbs] (clb2) at (332.3,683.3) {1.0};
\node[cbs] (clb3) at (334.3,805) {1.0};
\node[cbs] (clb4) at (337.7,843.3) {1.0};
\end{tikzpicture}
\end{document}
